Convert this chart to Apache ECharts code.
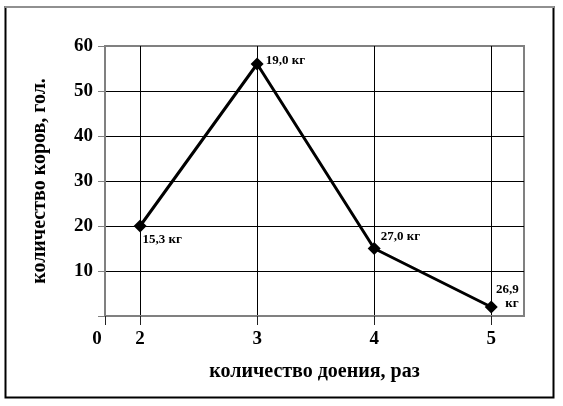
<!DOCTYPE html>
<html>
<head>
<meta charset="utf-8">
<script src="https://cdn.jsdelivr.net/npm/echarts@6/dist/echarts.min.js"></script>
<style>
html,body{margin:0;padding:0;background:#fff;}
#c{width:563px;height:406px;}
</style>
</head>
<body>
<div id="c"></div>
<script>
// data
var milkings = [2, 3, 4, 5];
var cows = [20, 56, 15, 2];
var yieldLabels = ['15,3 кг', '19,0 кг', '27,0 кг', '26,9\nкг'];
var xName = 'количество доения, раз';
var yName = 'количество коров, гол.';

// label placement (style only)
var labelOffsets = [[-9, 14], [-3, -3], [-5, -12], [16, -10]];
var labelAligns = ['left', 'left', 'left', 'right'];

var FONT = '"Liberation Serif", "Times New Roman", serif';
var chart = echarts.init(document.getElementById('c'));

var seriesData = milkings.map(function (m, i) {
  return {
    value: [m, cows[i]],
    label: {
      show: true,
      position: 'right',
      offset: labelOffsets[i],
      align: labelAligns[i],
      formatter: yieldLabels[i],
      fontFamily: FONT,
      fontWeight: 'bold',
      fontSize: 13,
      lineHeight: 14,
      color: '#000'
    }
  };
});

var XMIN = 1.7, XMAX = 5.28;

chart.setOption({
  animation: false,
  backgroundColor: '#fff',
  grid: {
    left: 105, right: 39, top: 46, bottom: 90,
    show: true, borderColor: '#808080', borderWidth: 2, backgroundColor: 'transparent'
  },
  xAxis: {
    type: 'value',
    min: XMIN, max: XMAX,
    splitNumber: 4,
    name: xName,
    nameLocation: 'middle',
    nameGap: 46,
    nameTextStyle: { fontFamily: FONT, fontWeight: 'bold', fontSize: 20, color: '#000' },
    axisLine: { show: true, onZero: true, lineStyle: { color: '#808080', width: 2 } },
    axisTick: { show: true, inside: false, length: 9, lineStyle: { color: '#222', width: 1 } },
    axisLabel: {
      margin: 14,
      showMinLabel: true, showMaxLabel: false,
      fontFamily: FONT, fontWeight: 'bold', fontSize: 19, color: '#000',
      formatter: function (v) {
        if (Math.abs(v - XMIN) < 1e-6) return '{z|0}';
        if (Math.abs(v - Math.round(v)) < 1e-6) return String(Math.round(v));
        return '';
      },
      rich: { z: { fontFamily: FONT, fontWeight: 'bold', fontSize: 19, color: '#000', padding: [0, 16, 0, 0] } }
    },
    splitLine: {
      show: true,
      lineStyle: { color: ['transparent', '#000', '#000', '#000', '#000', 'transparent'], width: 1 }
    }
  },
  yAxis: {
    type: 'value',
    min: 0, max: 60, interval: 10,
    name: yName,
    nameLocation: 'middle',
    nameGap: 55,
    nameTextStyle: { fontFamily: FONT, fontWeight: 'bold', fontSize: 20, color: '#000' },
    axisLine: { show: true, lineStyle: { color: '#808080', width: 2 } },
    axisTick: { show: true, inside: false, length: 7, lineStyle: { color: '#808080', width: 1 } },
    axisLabel: {
      margin: 12,
      fontFamily: FONT, fontWeight: 'bold', fontSize: 19, color: '#000',
      formatter: function (v) { return v === 0 ? '' : String(v); }
    },
    splitLine: {
      show: true,
      lineStyle: { color: ['transparent', '#000', '#000', '#000', '#000', '#000', 'transparent'], width: 1 }
    }
  },
  series: [{
    type: 'line',
    data: seriesData,
    symbol: 'diamond',
    symbolSize: 13,
    itemStyle: { color: '#000' },
    lineStyle: { color: '#000', width: 3 },
    z: 5
  }],
  graphic: [
    { type: 'rect', shape: { x: 5.5, y: 7, width: 548, height: 390.5 },
      style: { fill: 'none', stroke: '#000', lineWidth: 2 }, silent: true },
    { type: 'line', shape: { x1: 5, y1: 7, x2: 554, y2: 7 },
      style: { stroke: '#909090', lineWidth: 2 }, silent: true }
  ]
});
</script>
</body>
</html>
